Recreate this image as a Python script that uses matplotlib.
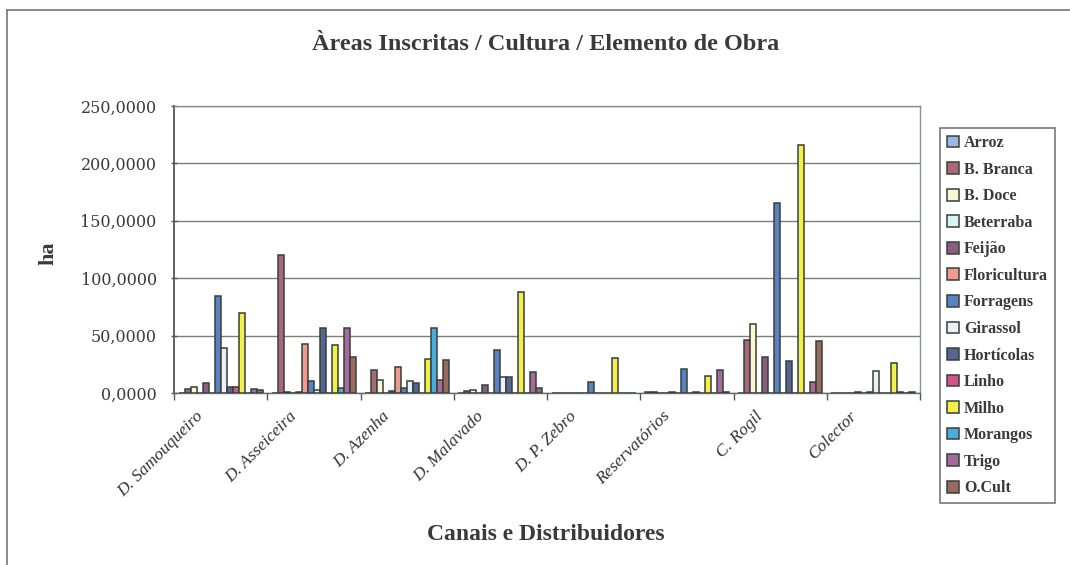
import matplotlib
matplotlib.use("Agg")
import matplotlib.pyplot as plt
import numpy as np
from matplotlib.lines import Line2D
from matplotlib.ticker import FuncFormatter
from matplotlib.transforms import ScaledTranslation

groups = ["D. Samouqueiro", "D. Asseiceira", "D. Azenha", "D. Malavado",
          "D. P. Zebro", "Reservatórios", "C. Rogil", "Colector"]

series_names = ["Arroz", "B. Branca", "B. Doce", "Beterraba", "Feijão",
                "Floricultura", "Forragens", "Girassol", "Hortícolas", "Linho",
                "Milho", "Morangos", "Trigo", "O.Cult"]

arroz        = [0.0, 0.0, 0.0, 0.0, 0.0, 0.5, 0.0, 0.0]
b_branca     = [3.6, 120.6, 19.6, 2.0, 0.0, 0.6, 45.8, 0.0]
b_doce       = [4.8, 0.5, 11.3, 2.4, 0.0, 0.0, 60.4, 0.0]
beterraba    = [0.0, 0.0, 0.0, 0.0, 0.0, 0.0, 0.0, 0.0]
feijao       = [8.3, 1.0, 1.5, 6.8, 0.0, 0.6, 31.5, 0.6]
floricultura = [0.0, 43.0, 23.0, 0.0, 0.0, 0.0, 0.0, 0.0]
forragens    = [84.3, 10.7, 4.0, 37.5, 10.0, 20.8, 165.6, 0.5]
girassol     = [39.0, 3.0, 10.7, 13.7, 0.0, 0.0, 0.0, 19.0]
horticolas   = [4.8, 57.0, 9.0, 13.7, 0.0, 1.0, 28.0, 0.0]
linho        = [4.8, 0.0, 0.0, 0.0, 0.0, 0.0, 0.0, 0.0]
milho        = [70.0, 42.0, 29.8, 88.0, 30.6, 14.9, 215.7, 26.2]
morangos     = [0.0, 4.0, 57.0, 0.0, 0.0, 0.0, 0.0, 0.5]
trigo        = [3.9, 56.5, 11.3, 18.0, 0.0, 19.6, 9.2, 0.0]
o_cult       = [2.4, 31.0, 28.6, 4.0, 0.0, 1.0, 45.0, 0.6]

series_values = [arroz, b_branca, b_doce, beterraba, feijao, floricultura,
                 forragens, girassol, horticolas, linho, milho, morangos,
                 trigo, o_cult]

colors = ["#9db4e8", "#a8687a", "#fbf7d0", "#d8f4f6", "#8a5f7e", "#ef9a8e",
          "#5b82c0", "#eceef8", "#56658e", "#d0548e", "#f4f04a", "#48aee0",
          "#a86a9c", "#9a6a5c"]

yticks = [0, 50, 100, 150, 200, 250]

W, H = 1070, 565
fig = plt.figure(figsize=(W / 100, H / 100), dpi=100)
fig.patch.set_facecolor("white")

ax = fig.add_axes([174 / W, 1 - 393 / H, (920 - 174) / W, (393 - 106) / H])

n = len(series_names)
w = 1 / (n + 1.5)
x = np.arange(len(groups))
edge = "#34403a"
for i, (name, vals, c) in enumerate(zip(series_names, series_values, colors)):
    ax.bar(x + (i - (n - 1) / 2) * w, vals, width=w, color=c, edgecolor=edge,
           linewidth=1.1, label=name, zorder=3)

ax.set_xlim(-0.5, len(groups) - 0.5)
ax.set_ylim(0, 250)
ax.set_yticks(yticks)
ax.yaxis.set_major_formatter(FuncFormatter(lambda v, p: f"{v:.4f}".replace(".", ",")))
ax.grid(axis="y", color="#7a7f7c", linewidth=1.0, zorder=0)
ax.set_axisbelow(True)

ax.set_xticks(x)
ax.set_xticks(np.arange(-0.5, len(groups)), minor=True)
ax.tick_params(axis="x", which="major", length=0, pad=11)
ax.tick_params(axis="x", which="minor", length=5, width=1, color="#555555", direction="out")
ax.set_xticklabels(groups, rotation=45, ha="right", va="top", rotation_mode="anchor",
                   fontfamily="Liberation Serif", fontstyle="italic", fontsize=12.5,
                   color="#333333")
offset = ScaledTranslation(-0.25, 0.0, fig.dpi_scale_trans)
for lab in ax.get_xticklabels():
    lab.set_transform(lab.get_transform() + offset)

ax.tick_params(axis="y", length=5, width=1, color="#555555", direction="inout", pad=10)
for lab in ax.get_yticklabels():
    lab.set_fontfamily("DejaVu Serif")
    lab.set_fontsize(11.5)
    lab.set_color("#3a3a3a")

for s in ["top", "right"]:
    ax.spines[s].set_color("#8a8e8c")
    ax.spines[s].set_linewidth(1.0)
ax.spines["left"].set_color("#555555")
ax.spines["left"].set_linewidth(1.3)
ax.spines["bottom"].set_color("#666666")
ax.spines["bottom"].set_linewidth(1.0)

fig.text(546 / W, 1 - 45 / H, "Àreas Inscritas / Cultura / Elemento de Obra",
         ha="center", va="center", fontfamily="Liberation Serif", fontweight="bold",
         fontsize=17.5, color="#3a3a3a")
fig.text(546 / W, 1 - 535 / H, "Canais e Distribuidores", ha="center", va="center",
         fontfamily="Liberation Serif", fontweight="bold", fontsize=17, color="#3a3a3a")
fig.text(48 / W, 1 - 253 / H, "ha", ha="center", va="center", rotation=90,
         fontfamily="Liberation Serif", fontweight="bold", fontsize=16, color="#3a3a3a")

leg = fig.legend(loc="upper left", bbox_to_anchor=(940 / W, 1 - 128 / H),
                 frameon=True, fancybox=False, edgecolor="#555555",
                 prop={"family": "Liberation Serif", "weight": "bold", "size": 11.5},
                 handlelength=0.75, handleheight=0.75, handletextpad=0.3,
                 labelspacing=0.66, borderpad=0.45, borderaxespad=0)
leg.get_frame().set_linewidth(1.2)
for t in leg.get_texts():
    t.set_color("#3a3a3a")

fig.add_artist(Line2D([7 / W, 7 / W], [0, 1 - 10 / H], transform=fig.transFigure,
                      color="#777777", linewidth=1.2))
fig.add_artist(Line2D([7 / W, 1], [1 - 10 / H, 1 - 10 / H], transform=fig.transFigure,
                      color="#777777", linewidth=1.2))

fig.savefig("out.png", dpi=100)
